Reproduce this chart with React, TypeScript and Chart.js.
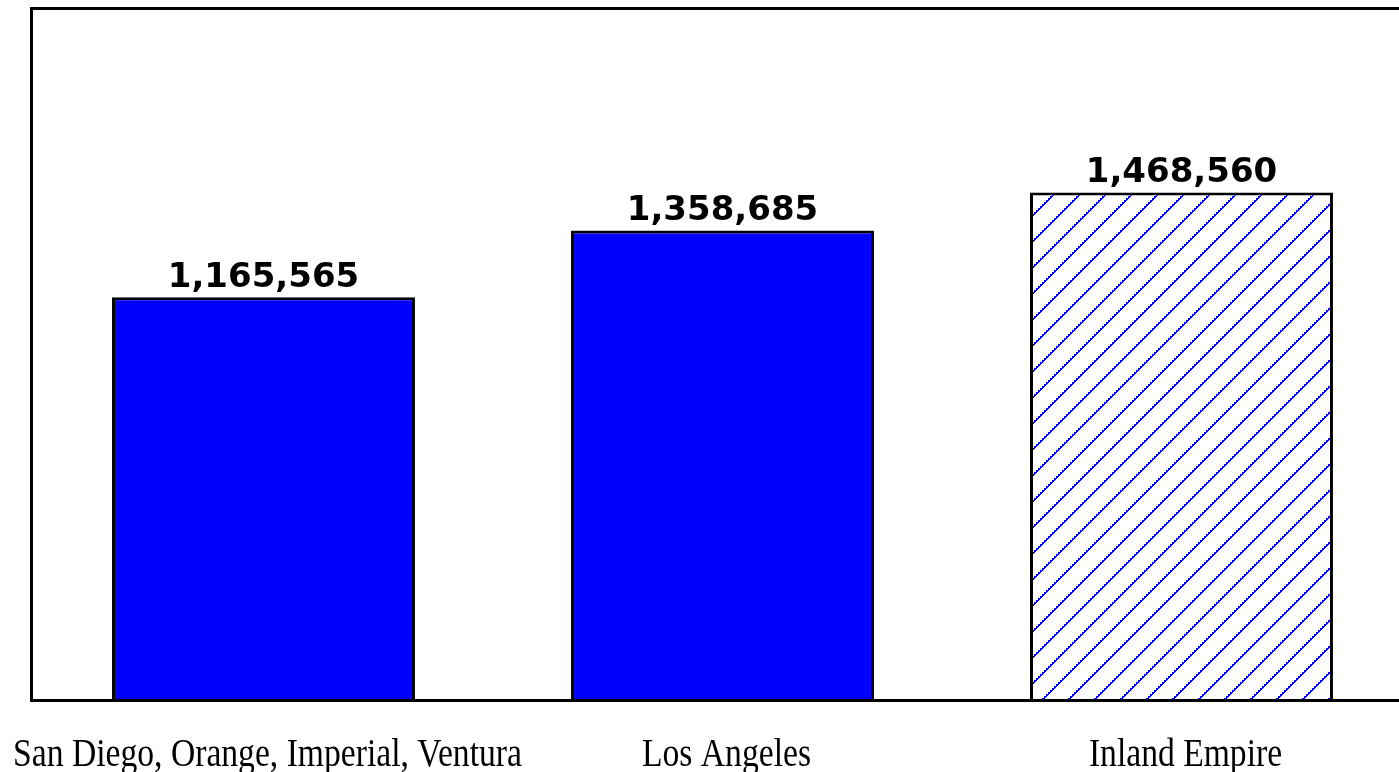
import React, { useEffect, useRef } from "react";
import { Chart, registerables } from "chart.js";

Chart.register(...registerables);

// Regions and their totals
const regions = ["San Diego, Orange, Imperial, Ventura", "Los Angeles", "Inland Empire"];
const population = [1165565, 1358685, 1468560];
const hatched = [false, false, true];
const axisMin = 0;
const axisMax = 2000000;

const CANVAS_W = 1420;
const CANVAS_H = 772;
const BLUE = "#0000ff";

// Diagonal "/" hatch tile, drawn as a pixel staircase
function makeHatch(): CanvasPattern | string {
  const size = 26;
  const tile = document.createElement("canvas");
  tile.width = size;
  tile.height = size;
  const c = tile.getContext("2d");
  if (!c) return "#ffffff";
  c.fillStyle = "#ffffff";
  c.fillRect(0, 0, size, size);
  c.fillStyle = BLUE;
  for (let i = 0; i < size; i += 2) {
    c.fillRect(i, size - 2 - i, 2, 2);
    c.fillRect((i + 2) % size, size - 2 - i, 1, 1);
  }
  const p = c.createPattern(tile, "repeat");
  return p || "#ffffff";
}

const framePlugin = {
  id: "frameAndLabels",
  afterDatasetsDraw(chart: any) {
    const { ctx, chartArea: a, width } = chart;
    const left = 31.5;
    ctx.save();

    // open frame: top, left and baseline
    ctx.strokeStyle = "#000000";
    ctx.lineWidth = 3;
    ctx.lineCap = "square";
    ctx.beginPath();
    ctx.moveTo(width, a.top);
    ctx.lineTo(left, a.top);
    ctx.lineTo(left, a.bottom);
    ctx.lineTo(width, a.bottom);
    ctx.stroke();

    const meta = chart.getDatasetMeta(0);
    const values: number[] = chart.data.datasets[0].data;

    // value labels above each bar
    ctx.fillStyle = "#000000";
    ctx.textAlign = "center";
    ctx.textBaseline = "alphabetic";
    ctx.font = "bold 34px 'DejaVu Sans'";
    meta.data.forEach((bar: any, i: number) => {
      ctx.fillText(values[i].toLocaleString("en-US"), bar.x, bar.y - 10);
    });

    // condensed category labels below the baseline
    ctx.font = "41px 'Liberation Serif'";
    const labels: string[] = chart.data.labels;
    meta.data.forEach((bar: any, i: number) => {
      ctx.save();
      ctx.translate(bar.x + 4, 766);
      ctx.scale(0.82, 1);
      ctx.fillText(labels[i], 0, 0);
      ctx.restore();
    });

    ctx.restore();
  },
};

export default function App() {
  const canvasRef = useRef<HTMLCanvasElement | null>(null);

  useEffect(() => {
    const canvas = canvasRef.current;
    if (!canvas) return;
    const hatch = makeHatch();
    const chart = new Chart(canvas, {
      type: "bar",
      data: {
        labels: regions,
        datasets: [
          {
            data: population,
            backgroundColor: hatched.map((h) => (h ? hatch : BLUE)) as any,
            borderColor: "#000000",
            borderWidth: 3,
            borderSkipped: "bottom",
            barPercentage: 0.66,
            categoryPercentage: 1,
          },
        ],
      },
      options: {
        responsive: false,
        maintainAspectRatio: false,
        animation: false,
        layout: { padding: { left: 34, right: 9, top: 8.5, bottom: 71.5 } },
        scales: {
          x: { display: false },
          y: { display: false, min: axisMin, max: axisMax },
        },
        plugins: {
          legend: { display: false },
          tooltip: { enabled: false },
        },
      },
      plugins: [framePlugin],
    });
    return () => chart.destroy();
  }, []);

  return (
    <div
      style={{
        position: "fixed",
        left: 0,
        top: 0,
        width: 1399,
        height: 772,
        overflow: "hidden",
        background: "#ffffff",
      }}
    >
      <canvas ref={canvasRef} width={CANVAS_W} height={CANVAS_H} style={{ display: "block" }} />
    </div>
  );
}
